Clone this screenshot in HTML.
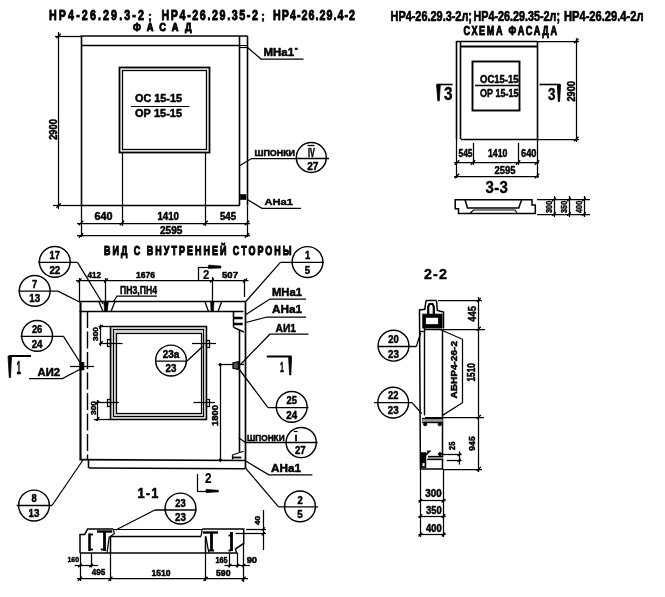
<!DOCTYPE html>
<html><head><meta charset="utf-8"><title>НР4-26.29</title>
<style>
html,body{margin:0;padding:0;background:#fff;}
svg{display:block;will-change:transform;font-family:"Liberation Sans",sans-serif;}
svg line,svg polyline,svg polygon,svg rect,svg circle{stroke:#000;}
svg text{fill:#000;stroke:#000;stroke-linejoin:round;}
</style></head><body>
<svg width="665" height="597" viewBox="0 0 665 597">
<rect x="0" y="0" width="665" height="597" fill="#fff" style="stroke:none"/>
<text transform="translate(49,20.4) scale(0.72,1)" font-size="14.86" textLength="131.9" lengthAdjust="spacing" font-weight="bold" stroke-width="0.97">НР4-26.29.3-2</text>
<text x="148" y="20" font-size="11.43" textLength="4.0" lengthAdjust="spacingAndGlyphs" font-weight="bold" stroke-width="0.5">;</text>
<text transform="translate(161.5,20.4) scale(0.72,1)" font-size="14.86" textLength="134.0" lengthAdjust="spacing" font-weight="bold" stroke-width="0.97">НР4-26.29.35-2</text>
<text x="261" y="20" font-size="11.43" textLength="4.0" lengthAdjust="spacingAndGlyphs" font-weight="bold" stroke-width="0.5">;</text>
<text transform="translate(273,20.4) scale(0.72,1)" font-size="14.86" textLength="113.9" lengthAdjust="spacing" font-weight="bold" stroke-width="0.97">НР4-26.29.4-2</text>
<text transform="translate(133,31) scale(0.8,1)" font-size="11.57" textLength="73.1" lengthAdjust="spacing" font-weight="bold" stroke-width="1.00">ФАСАД</text>
<text x="390.5" y="20.9" font-size="14.29" textLength="81.5" lengthAdjust="spacingAndGlyphs" font-weight="bold" stroke-width="0.7">НР4-26.29.3-2л;</text>
<text x="473.5" y="20.9" font-size="14.29" textLength="86.5" lengthAdjust="spacingAndGlyphs" font-weight="bold" stroke-width="0.7">НР4-26.29.35-2л;</text>
<text x="564" y="20.9" font-size="14.29" textLength="79.5" lengthAdjust="spacingAndGlyphs" font-weight="bold" stroke-width="0.7">НР4-26.29.4-2л</text>
<text transform="translate(463.5,34.5) scale(0.75,1)" font-size="12.14" textLength="124.7" lengthAdjust="spacing" font-weight="bold" stroke-width="0.93">СХЕМА ФАСАДА</text>
<line x1="80.5" y1="36" x2="247.5" y2="36.001" stroke-width="1.6" />
<line x1="81" y1="45.5" x2="240" y2="45.5" stroke-width="1.6" />
<line x1="81.5" y1="36" x2="81.5" y2="205.5" stroke-width="1.6" />
<line x1="81.5" y1="205.5" x2="81.5" y2="237" stroke-width="1.25" />
<line x1="247.5" y1="36" x2="247.5" y2="205.5" stroke-width="1.6" />
<line x1="247.5" y1="205.5" x2="247.5" y2="237" stroke-width="1.25" />
<line x1="239.5" y1="36" x2="239.5" y2="205.5" stroke-width="1.6" />
<line x1="81" y1="205.5" x2="240" y2="205.5" stroke-width="1.6" />
<line x1="240" y1="45.5" x2="247" y2="45.5" stroke-width="1" />
<line x1="240" y1="47.5" x2="247" y2="47.5" stroke-width="1.2" />
<rect x="119.5" y="67.5" width="90.0" height="85.0" stroke-width="1.8" fill="none"/>
<rect x="122.5" y="70.5" width="84.0" height="79.0" stroke-width="1.3" fill="none"/>
<line x1="58.5" y1="32" x2="58.5" y2="209" stroke-width="1.25" />
<line x1="55" y1="36.5" x2="81" y2="36.5" stroke-width="1.25" />
<line x1="53" y1="205.5" x2="81" y2="205.5" stroke-width="1.25" />
<line x1="56.4" y1="38.2" x2="60.800000000000004" y2="33.8" stroke-width="1.3" />
<line x1="56.4" y1="207.7" x2="60.800000000000004" y2="203.3" stroke-width="1.3" />
<text transform="translate(56.8,139.8) rotate(-90)" font-size="10.29" textLength="20.6" lengthAdjust="spacingAndGlyphs" font-weight="bold" stroke-width="0.5">2900</text>
<text x="135" y="101.5" font-size="10.71" textLength="47.0" lengthAdjust="spacingAndGlyphs" font-weight="bold" stroke-width="0.5">ОС 15-15</text>
<line x1="131" y1="106.5" x2="189.5" y2="106.5" stroke-width="1.2" />
<text x="135" y="116.5" font-size="10.71" textLength="47.0" lengthAdjust="spacingAndGlyphs" font-weight="bold" stroke-width="0.5">ОР 15-15</text>
<line x1="122.5" y1="152.5" x2="122.5" y2="226" stroke-width="1.25" />
<line x1="205.5" y1="152.5" x2="205.5" y2="226" stroke-width="1.25" />
<line x1="77" y1="223.5" x2="250" y2="223.5" stroke-width="1.25" />
<line x1="77" y1="235.5" x2="250" y2="235.5" stroke-width="1.25" />
<line x1="78.8" y1="225.2" x2="83.2" y2="220.8" stroke-width="1.3" />
<line x1="119.8" y1="225.2" x2="124.2" y2="220.8" stroke-width="1.3" />
<line x1="203.3" y1="225.2" x2="207.7" y2="220.8" stroke-width="1.3" />
<line x1="244.8" y1="225.2" x2="249.2" y2="220.8" stroke-width="1.3" />
<line x1="78.8" y1="237.7" x2="83.2" y2="233.3" stroke-width="1.3" />
<line x1="244.8" y1="237.7" x2="249.2" y2="233.3" stroke-width="1.3" />
<text x="94.5" y="220" font-size="10.71" textLength="18.0" lengthAdjust="spacingAndGlyphs" font-weight="bold" stroke-width="0.5">640</text>
<text x="157.5" y="220" font-size="10.71" textLength="21.5" lengthAdjust="spacingAndGlyphs" font-weight="bold" stroke-width="0.5">1410</text>
<text x="220" y="220" font-size="10.00" textLength="16.0" lengthAdjust="spacingAndGlyphs" font-weight="bold" stroke-width="0.5">545</text>
<text x="160" y="234" font-size="10.00" textLength="22.5" lengthAdjust="spacingAndGlyphs" font-weight="bold" stroke-width="0.5">2595</text>
<polyline points="247,47 261,59 303.5,59" stroke-width="1.25" fill="none"/>
<text x="263.5" y="56" font-size="10.00" textLength="30.5" lengthAdjust="spacingAndGlyphs" font-weight="bold" stroke-width="0.5">МНа1</text>
<text x="294.5" y="53" font-size="7.14" textLength="3.5" lengthAdjust="spacingAndGlyphs" font-weight="bold" stroke-width="0.5">'</text>
<polyline points="240,165.5 251.5,158.5 296,158.5" stroke-width="1.25" fill="none"/>
<text x="254.5" y="155.8" font-size="8.57" textLength="40.5" lengthAdjust="spacingAndGlyphs" font-weight="bold" stroke-width="0.5">ШПОНКИ</text>
<circle cx="311.3" cy="157.5" r="15" stroke-width="1.45" fill="none"/>
<line x1="296" y1="158.5" x2="329" y2="158.5" stroke-width="1.3" />
<text x="308" y="156.6" font-size="11.86" textLength="6.8" lengthAdjust="spacingAndGlyphs" font-weight="bold" stroke-width="0.6">IV</text>
<line x1="307.5" y1="145.5" x2="314.5" y2="145.5" stroke-width="1.3" />
<text x="307.2" y="169.6" font-size="10.86" textLength="11.3" lengthAdjust="spacingAndGlyphs" font-weight="bold" stroke-width="0.5">27</text>
<rect x="240.3" y="194.6" width="5.699999999999989" height="5.0" stroke-width="0.6" fill="#000"/>
<polyline points="247.8,199.7 262,208.4 301,208.4" stroke-width="1.25" fill="none"/>
<text x="264.5" y="205" font-size="9.57" textLength="28.3" lengthAdjust="spacingAndGlyphs" font-weight="bold" stroke-width="0.5">АНа1</text>
<line x1="456.5" y1="41" x2="456.5" y2="139" stroke-width="1.6" />
<line x1="456.5" y1="139" x2="456.5" y2="178" stroke-width="1.25" />
<line x1="460.5" y1="41" x2="460.5" y2="139" stroke-width="1.6" />
<line x1="537.5" y1="41" x2="537.5" y2="139" stroke-width="1.6" />
<line x1="537.5" y1="139" x2="537.5" y2="178" stroke-width="1.25" />
<line x1="456.5" y1="41.5" x2="537" y2="41.5" stroke-width="1.6" />
<line x1="537" y1="41.5" x2="579" y2="41.5" stroke-width="1.25" />
<line x1="460.8" y1="46.5" x2="537" y2="46.5" stroke-width="1.8" />
<line x1="460.8" y1="139.5" x2="537" y2="139.5" stroke-width="1.6" />
<line x1="537" y1="139.5" x2="579" y2="139.5" stroke-width="1.25" />
<rect x="472.5" y="61.5" width="47.0" height="49.0" stroke-width="1.9" fill="none"/>
<line x1="576.5" y1="38" x2="576.5" y2="142" stroke-width="1.25" />
<line x1="574.0999999999999" y1="43.2" x2="578.5" y2="38.8" stroke-width="1.3" />
<line x1="574.0999999999999" y1="141.2" x2="578.5" y2="136.8" stroke-width="1.3" />
<text transform="translate(574.8,101.5) rotate(-90)" font-size="10.43" textLength="20.5" lengthAdjust="spacingAndGlyphs" font-weight="bold" stroke-width="0.5">2900</text>
<text x="480" y="82.5" font-size="10.71" textLength="38.5" lengthAdjust="spacingAndGlyphs" font-weight="bold" stroke-width="0.5">ОС15-15</text>
<line x1="475" y1="85.5" x2="519" y2="85.5" stroke-width="1.3" />
<text x="480" y="96.5" font-size="10.71" textLength="38.5" lengthAdjust="spacingAndGlyphs" font-weight="bold" stroke-width="0.5">ОР 15-15</text>
<line x1="437" y1="84.5" x2="452.6" y2="84.5" stroke-width="1.6" />
<polygon points="436.6,84.5 440.3,84.5 439.3,100.8 437.8,100.8" stroke-width="0.8" fill="#000"/>
<text transform="translate(444,99.6) scale(0.85,1)" font-size="18.00" textLength="9.4" lengthAdjust="spacing" font-weight="bold" stroke-width="0.35">3</text>
<line x1="539.5" y1="84.5" x2="560" y2="84.5" stroke-width="1.6" />
<polygon points="557.3,84.5 560.6,84.5 559.6,101.5 558.3,101.5" stroke-width="0.8" fill="#000"/>
<text transform="translate(548,100.4) scale(0.8,1)" font-size="16.86" textLength="7.5" lengthAdjust="spacing" font-weight="bold" stroke-width="0.37">3</text>
<line x1="473.5" y1="143" x2="473.5" y2="165" stroke-width="1.25" />
<line x1="518.5" y1="143" x2="518.5" y2="165" stroke-width="1.25" />
<line x1="454" y1="162.5" x2="539" y2="162.5" stroke-width="1.25" />
<line x1="454" y1="176.5" x2="539" y2="176.5" stroke-width="1.25" />
<line x1="454.8" y1="164.7" x2="459.2" y2="160.3" stroke-width="1.3" />
<line x1="470.8" y1="164.7" x2="475.2" y2="160.3" stroke-width="1.3" />
<line x1="515.8" y1="164.7" x2="520.2" y2="160.3" stroke-width="1.3" />
<line x1="534.8" y1="164.7" x2="539.2" y2="160.3" stroke-width="1.3" />
<line x1="454.8" y1="178.2" x2="459.2" y2="173.8" stroke-width="1.3" />
<line x1="534.8" y1="178.2" x2="539.2" y2="173.8" stroke-width="1.3" />
<text x="458.5" y="157" font-size="11.43" textLength="14.0" lengthAdjust="spacingAndGlyphs" font-weight="bold" stroke-width="0.5">545</text>
<text x="488" y="157" font-size="11.43" textLength="19.5" lengthAdjust="spacingAndGlyphs" font-weight="bold" stroke-width="0.5">1410</text>
<text x="521" y="157" font-size="11.43" textLength="15.5" lengthAdjust="spacingAndGlyphs" font-weight="bold" stroke-width="0.5">640</text>
<text x="494.5" y="174" font-size="11.43" textLength="21.0" lengthAdjust="spacingAndGlyphs" font-weight="bold" stroke-width="0.5">2595</text>
<text transform="translate(485.5,192.5) scale(0.92,1)" font-size="16.43" textLength="24.5" lengthAdjust="spacing" font-weight="bold" stroke-width="0.33">3-3</text>
<polygon points="455.2,199.8 532,199.8 532,205 535.3,205 535.3,213.5 458.5,213.5 458.5,208.8 455.2,208.8" stroke-width="1.5" fill="none"/>
<polyline points="465,199.8 467.5,208 518.7,208 521.7,199.8" stroke-width="1.5" fill="none"/>
<polyline points="469.8,213.5 473.5,210 515,210 517.3,213.5" stroke-width="1.1" fill="none"/>
<line x1="537" y1="199.5" x2="590" y2="199.5" stroke-width="1.25" />
<line x1="537" y1="214.5" x2="590" y2="214.5" stroke-width="1.25" />
<line x1="554.5" y1="196" x2="554.5" y2="217" stroke-width="1.25" />
<line x1="552.2" y1="201.3" x2="555.8" y2="197.7" stroke-width="1.3" />
<line x1="552.2" y1="215.8" x2="555.8" y2="212.2" stroke-width="1.3" />
<line x1="569.5" y1="196" x2="569.5" y2="217" stroke-width="1.25" />
<line x1="567.2" y1="201.3" x2="570.8" y2="197.7" stroke-width="1.3" />
<line x1="567.2" y1="215.8" x2="570.8" y2="212.2" stroke-width="1.3" />
<line x1="584.5" y1="196" x2="584.5" y2="217" stroke-width="1.25" />
<line x1="582.2" y1="201.3" x2="585.8" y2="197.7" stroke-width="1.3" />
<line x1="582.2" y1="215.8" x2="585.8" y2="212.2" stroke-width="1.3" />
<text transform="translate(552.3,213) rotate(-90)" font-size="9.71" textLength="12.2" lengthAdjust="spacingAndGlyphs" font-weight="bold" stroke-width="0.5">300</text>
<text transform="translate(567.3,213) rotate(-90)" font-size="9.71" textLength="12.2" lengthAdjust="spacingAndGlyphs" font-weight="bold" stroke-width="0.5">350</text>
<text transform="translate(582.3,213) rotate(-90)" font-size="9.71" textLength="12.2" lengthAdjust="spacingAndGlyphs" font-weight="bold" stroke-width="0.5">400</text>
<text transform="translate(104,255) scale(0.66,1)" font-size="13.57" textLength="284.1" lengthAdjust="spacing" font-weight="bold" stroke-width="1.14">ВИД С ВНУТРЕННЕЙ СТОРОНЫ</text>
<line x1="79.5" y1="301.5" x2="245.5" y2="301.5" stroke-width="1.6" />
<line x1="79.5" y1="311.5" x2="243.5" y2="311.5" stroke-width="1.6" />
<line x1="79.5" y1="278" x2="79.5" y2="302.3" stroke-width="1.25" />
<line x1="80.5" y1="302.3" x2="80.5" y2="459.8" stroke-width="2.1" />
<line x1="87.5" y1="311" x2="87.5" y2="459.5" stroke-width="1.4" stroke-dasharray="17 3.5"/>
<line x1="245.5" y1="301.6" x2="245.5" y2="468" stroke-width="1.7" />
<line x1="79.5" y1="459.6" x2="245" y2="460.5" stroke-width="1.6" />
<line x1="88.5" y1="459.8" x2="88.5" y2="468" stroke-width="1.6" />
<line x1="88.8" y1="468" x2="245" y2="468.8" stroke-width="1.6" />
<line x1="239.5" y1="329.7" x2="239.5" y2="452" stroke-width="1.6" />
<line x1="233.5" y1="311" x2="233.5" y2="327.4" stroke-width="1.5" />
<line x1="233.7" y1="318" x2="242.7" y2="318.001" stroke-width="2.3" />
<line x1="233.7" y1="324" x2="242.7" y2="324.001" stroke-width="2.3" />
<polyline points="233.7,327.4 243.8,332" stroke-width="1.4" fill="none"/>
<rect x="113.5" y="330" width="90.5" height="86" fill="none" style="stroke:#cfcfcf" stroke-width="5.5"/>
<rect x="110.5" y="326.5" width="96.0" height="93.0" stroke-width="1.5" fill="none"/>
<rect x="113.5" y="329.5" width="90.0" height="87.0" stroke-width="1.0" fill="none"/>
<rect x="116.5" y="333.5" width="85.0" height="80.0" stroke-width="1.2" fill="none"/>
<line x1="99.6" y1="343.5" x2="122.5" y2="343.5" stroke-width="1.25" />
<rect x="107.5" y="339.5" width="3.0" height="7.0" stroke-width="1.25" fill="none"/>
<line x1="192" y1="343.5" x2="216" y2="343.5" stroke-width="1.25" />
<rect x="206.5" y="340.5" width="3.0" height="7.0" stroke-width="1.25" fill="none"/>
<line x1="94" y1="402.5" x2="119" y2="402.5" stroke-width="1.25" />
<rect x="107.5" y="399.5" width="3.0" height="7.0" stroke-width="1.25" fill="none"/>
<line x1="193.5" y1="402.5" x2="215" y2="402.5" stroke-width="1.25" />
<rect x="206.5" y="399.5" width="3.0" height="7.0" stroke-width="1.25" fill="none"/>
<line x1="100.5" y1="324.5" x2="100.5" y2="346" stroke-width="1.25" />
<line x1="98.5" y1="326.5" x2="110.7" y2="326.5" stroke-width="1.25" />
<line x1="99.2" y1="328.5" x2="102.8" y2="324.9" stroke-width="1.3" />
<line x1="99.2" y1="344.8" x2="102.8" y2="341.2" stroke-width="1.3" />
<text transform="translate(97.8,341) rotate(-90)" font-size="7.86" textLength="14.0" lengthAdjust="spacingAndGlyphs" font-weight="bold" stroke-width="0.5">300</text>
<line x1="97.5" y1="400" x2="97.5" y2="421" stroke-width="1.25" />
<line x1="94" y1="419.5" x2="110.7" y2="419.5" stroke-width="1.25" />
<line x1="95.7" y1="404.5" x2="99.3" y2="400.9" stroke-width="1.3" />
<line x1="95.7" y1="420.8" x2="99.3" y2="417.2" stroke-width="1.3" />
<text transform="translate(96,415) rotate(-90)" font-size="7.86" textLength="14.0" lengthAdjust="spacingAndGlyphs" font-weight="bold" stroke-width="0.5">300</text>
<line x1="76" y1="280.5" x2="248.5" y2="280.5" stroke-width="1.25" />
<line x1="105.5" y1="278" x2="105.5" y2="302" stroke-width="1.25" />
<polygon points="103.8,302 108.3,302 107.3,311 104.6,311" stroke-width="0.6" fill="#000"/>
<line x1="212.5" y1="277" x2="212.5" y2="302" stroke-width="1.25" />
<polygon points="210.6,302 213.9,302 213.5,311 211,311" stroke-width="0.6" fill="#000"/>
<line x1="244.5" y1="279" x2="244.5" y2="297" stroke-width="1.25" />
<line x1="77.5" y1="282.5" x2="81.5" y2="278.5" stroke-width="1.3" />
<line x1="104" y1="282.5" x2="108" y2="278.5" stroke-width="1.3" />
<line x1="210" y1="282.5" x2="214" y2="278.5" stroke-width="1.3" />
<line x1="243" y1="282.5" x2="247" y2="278.5" stroke-width="1.3" />
<text x="87.5" y="277.5" font-size="9.71" textLength="13.5" lengthAdjust="spacingAndGlyphs" font-weight="bold" stroke-width="0.5">412</text>
<text x="136" y="277.5" font-size="9.71" textLength="19.0" lengthAdjust="spacingAndGlyphs" font-weight="bold" stroke-width="0.5">1676</text>
<text x="222" y="277.5" font-size="9.71" textLength="16.0" lengthAdjust="spacingAndGlyphs" font-weight="bold" stroke-width="0.5">507</text>
<polyline points="98.8,301.5 103,311.5" stroke-width="1.3" fill="none"/>
<polyline points="115,301.5 111,311.5" stroke-width="1.3" fill="none"/>
<polyline points="204.9,301.5 208.5,311.5" stroke-width="1.3" fill="none"/>
<polyline points="221.7,301.5 218,311.5" stroke-width="1.3" fill="none"/>
<text x="120" y="294" font-size="11.43" textLength="37.0" lengthAdjust="spacingAndGlyphs" font-weight="bold" stroke-width="0.5">ПН3,ПН4</text>
<polyline points="157,296 117,296 113.3,302" stroke-width="1.25" fill="none"/>
<line x1="198.5" y1="267" x2="198.5" y2="280.5" stroke-width="1.25" />
<line x1="198.2" y1="267.5" x2="221" y2="267.5" stroke-width="1.25" />
<polygon points="208.5,265 221,266 221,268 208.5,268.6" stroke-width="0.5" fill="#000"/>
<text x="203" y="278.5" font-size="12.14" textLength="6.3" lengthAdjust="spacingAndGlyphs" font-weight="bold" stroke-width="0.2">2</text>
<line x1="197.5" y1="474" x2="197.5" y2="491" stroke-width="1.25" />
<line x1="197" y1="491.5" x2="218.5" y2="491.5" stroke-width="1.25" />
<polygon points="206,489.3 218.5,490.2 218.5,491.8 206,492.7" stroke-width="0.5" fill="#000"/>
<text x="205" y="482.5" font-size="14.29" textLength="6.5" lengthAdjust="spacingAndGlyphs" font-weight="bold" stroke-width="0.2">2</text>
<line x1="9" y1="356" x2="31" y2="356.001" stroke-width="2.0" />
<polygon points="8,356 11.5,356 10.5,377.5 9.3,377.5" stroke-width="0.8" fill="#000"/>
<text x="16.5" y="374" font-size="18.57" textLength="4.5" lengthAdjust="spacingAndGlyphs" font-weight="bold" stroke-width="0.5">1</text>
<line x1="266.8" y1="356.4" x2="291.3" y2="356.401" stroke-width="2.0" />
<polygon points="288.6,356.4 291.6,356.4 290.8,375 289.6,375" stroke-width="0.8" fill="#000"/>
<text x="280" y="372" font-size="14.57" textLength="4.0" lengthAdjust="spacingAndGlyphs" font-weight="bold" stroke-width="0.5">1</text>
<circle cx="54.8" cy="261.8" r="15.4" stroke-width="1.45" fill="none"/>
<line x1="38" y1="262.3" x2="77.5" y2="262.301" stroke-width="1.3" />
<text x="49.599999999999994" y="259.1" font-size="10.86" textLength="10.4" lengthAdjust="spacingAndGlyphs" font-weight="bold" stroke-width="0.5">17</text>
<text x="49.4" y="273.5" font-size="11.14" textLength="10.8" lengthAdjust="spacingAndGlyphs" font-weight="bold" stroke-width="0.5">22</text>
<polyline points="77.5,262.3 103,304" stroke-width="1.25" fill="none"/>
<circle cx="34.7" cy="290.9" r="15.4" stroke-width="1.45" fill="none"/>
<line x1="18.3" y1="291.1" x2="58" y2="291.101" stroke-width="1.3" />
<text x="32.1" y="287.90000000000003" font-size="10.86" textLength="5.2" lengthAdjust="spacingAndGlyphs" font-weight="bold" stroke-width="0.5">7</text>
<text x="29.300000000000004" y="302.3" font-size="11.14" textLength="10.8" lengthAdjust="spacingAndGlyphs" font-weight="bold" stroke-width="0.5">13</text>
<polyline points="58,291.1 79.5,302" stroke-width="1.25" fill="none"/>
<circle cx="37.1" cy="335.8" r="15.4" stroke-width="1.45" fill="none"/>
<line x1="20.5" y1="336.3" x2="63.5" y2="336.301" stroke-width="1.3" />
<text x="31.900000000000002" y="333.1" font-size="10.86" textLength="10.4" lengthAdjust="spacingAndGlyphs" font-weight="bold" stroke-width="0.5">26</text>
<text x="31.700000000000003" y="347.5" font-size="11.14" textLength="10.8" lengthAdjust="spacingAndGlyphs" font-weight="bold" stroke-width="0.5">24</text>
<polyline points="63.5,336.3 80.7,363.5" stroke-width="1.25" fill="none"/>
<text x="37.5" y="376" font-size="10.00" textLength="22.5" lengthAdjust="spacingAndGlyphs" font-weight="bold" stroke-width="0.5">АИ2</text>
<polyline points="29,378.6 62.5,378.6 80.5,369" stroke-width="1.25" fill="none"/>
<line x1="70" y1="366.5" x2="94" y2="366.5" stroke-width="1.25" />
<rect x="80" y="362.5" width="3.799999999999997" height="7.300000000000011" stroke-width="1.0" fill="#000"/>
<circle cx="307.5" cy="262" r="15.4" stroke-width="1.45" fill="none"/>
<line x1="280.4" y1="262.3" x2="324" y2="262.301" stroke-width="1.3" />
<text x="304.9" y="259.1" font-size="10.86" textLength="5.2" lengthAdjust="spacingAndGlyphs" font-weight="bold" stroke-width="0.5">1</text>
<text x="304.8" y="273.5" font-size="11.14" textLength="5.4" lengthAdjust="spacingAndGlyphs" font-weight="bold" stroke-width="0.5">5</text>
<polyline points="280.4,262.3 245.8,301.5" stroke-width="1.25" fill="none"/>
<text x="272" y="295.5" font-size="10.71" textLength="30.0" lengthAdjust="spacingAndGlyphs" font-weight="bold" stroke-width="0.5">МНа1</text>
<polyline points="306,299 270,299 246,314.5" stroke-width="1.25" fill="none"/>
<text x="272" y="313" font-size="10.71" textLength="30.0" lengthAdjust="spacingAndGlyphs" font-weight="bold" stroke-width="0.5">АНа1</text>
<polyline points="306,317 267,317 246,322.5" stroke-width="1.25" fill="none"/>
<text x="275.5" y="332" font-size="11.43" textLength="20.5" lengthAdjust="spacingAndGlyphs" font-weight="bold" stroke-width="0.5">АИ1</text>
<polyline points="308.5,334.2 269.8,334.2 240,365" stroke-width="1.25" fill="none"/>
<line x1="218.5" y1="364.5" x2="244" y2="364.5" stroke-width="1.25" />
<polygon points="233,362.8 238.5,361.8 238.5,369.5 233,368.3" stroke-width="1.3" fill="#555"/>
<circle cx="220.3" cy="364.7" r="1.2" fill="#000" stroke="none"/>
<circle cx="220.3" cy="460" r="1.2" fill="#000" stroke="none"/>
<line x1="220.5" y1="364.7" x2="220.5" y2="462" stroke-width="1.25" />
<text transform="translate(218,426) rotate(-90)" font-size="9.29" textLength="21.0" lengthAdjust="spacingAndGlyphs" font-weight="bold" stroke-width="0.5">1800</text>
<circle cx="171" cy="360.5" r="15.4" stroke-width="1.45" fill="none"/>
<line x1="155" y1="361.2" x2="187" y2="361.20099999999996" stroke-width="1.3" />
<text x="162.75" y="358.0" font-size="10.86" textLength="16.5" lengthAdjust="spacingAndGlyphs" font-weight="bold" stroke-width="0.5">23а</text>
<text x="165.6" y="372.4" font-size="11.14" textLength="10.8" lengthAdjust="spacingAndGlyphs" font-weight="bold" stroke-width="0.5">23</text>
<polyline points="186.8,361.2 202.6,346.5" stroke-width="1.25" fill="none"/>
<circle cx="291.7" cy="406.8" r="15.4" stroke-width="1.45" fill="none"/>
<line x1="268" y1="407.6" x2="308.5" y2="407.601" stroke-width="1.3" />
<text x="286.5" y="404.40000000000003" font-size="10.86" textLength="10.4" lengthAdjust="spacingAndGlyphs" font-weight="bold" stroke-width="0.5">25</text>
<text x="286.3" y="418.8" font-size="11.14" textLength="10.8" lengthAdjust="spacingAndGlyphs" font-weight="bold" stroke-width="0.5">24</text>
<polyline points="268,407.6 239,369" stroke-width="1.25" fill="none"/>
<circle cx="301.2" cy="442.5" r="15.1" stroke-width="1.45" fill="none"/>
<line x1="245.5" y1="442.5" x2="317.7" y2="442.5" stroke-width="1.3" />
<text x="294.4" y="440.8" font-size="9.00" textLength="3.0" lengthAdjust="spacingAndGlyphs" font-weight="bold" stroke-width="0.4">I</text>
<line x1="293.8" y1="431.5" x2="297.6" y2="431.5" stroke-width="1.2" />
<text x="295" y="453.8" font-size="10.71" textLength="10.7" lengthAdjust="spacingAndGlyphs" font-weight="bold" stroke-width="0.5">27</text>
<polyline points="238.6,437.8 245.5,442.5" stroke-width="1.25" fill="none"/>
<text x="247" y="440.5" font-size="8.57" textLength="37.6" lengthAdjust="spacingAndGlyphs" font-weight="bold" stroke-width="0.5">ШПОНКИ</text>
<polyline points="232.3,455 243.6,451.3" stroke-width="1.1" fill="none"/>
<line x1="232.3" y1="457.5" x2="241.4" y2="457.5" stroke-width="1.8" />
<line x1="232.5" y1="455" x2="232.5" y2="459.5" stroke-width="1.25" />
<text x="271" y="472" font-size="10.43" textLength="30.0" lengthAdjust="spacingAndGlyphs" font-weight="bold" stroke-width="0.5">АНа1</text>
<polyline points="312.4,474.9 268.8,474.9 245,460.5" stroke-width="1.25" fill="none"/>
<circle cx="300" cy="506.4" r="15.4" stroke-width="1.45" fill="none"/>
<line x1="278.5" y1="506.8" x2="318" y2="506.801" stroke-width="1.3" />
<text x="297.4" y="503.6" font-size="10.86" textLength="5.2" lengthAdjust="spacingAndGlyphs" font-weight="bold" stroke-width="0.5">2</text>
<text x="297.3" y="518.0" font-size="11.14" textLength="5.4" lengthAdjust="spacingAndGlyphs" font-weight="bold" stroke-width="0.5">5</text>
<polyline points="278.5,506.8 245,467.5" stroke-width="1.25" fill="none"/>
<circle cx="34" cy="505.5" r="15.4" stroke-width="1.45" fill="none"/>
<line x1="16.6" y1="505.5" x2="52" y2="505.501" stroke-width="1.3" />
<text x="31.4" y="502.3" font-size="10.86" textLength="5.2" lengthAdjust="spacingAndGlyphs" font-weight="bold" stroke-width="0.5">8</text>
<text x="28.6" y="516.7" font-size="11.14" textLength="10.8" lengthAdjust="spacingAndGlyphs" font-weight="bold" stroke-width="0.5">13</text>
<polyline points="52,505.5 83,460" stroke-width="1.25" fill="none"/>
<text transform="translate(137.5,498.4) scale(0.9,1)" font-size="14.29" textLength="23.3" lengthAdjust="spacing" font-weight="bold" stroke-width="0.56">1-1</text>
<circle cx="180.5" cy="508.5" r="15.4" stroke-width="1.45" fill="none"/>
<line x1="154.8" y1="510" x2="196.5" y2="510.001" stroke-width="1.3" />
<text x="175.3" y="506.8" font-size="10.86" textLength="10.4" lengthAdjust="spacingAndGlyphs" font-weight="bold" stroke-width="0.5">23</text>
<text x="175.1" y="521.2" font-size="11.14" textLength="10.8" lengthAdjust="spacingAndGlyphs" font-weight="bold" stroke-width="0.5">23</text>
<polyline points="154.8,510 115.8,530" stroke-width="1.25" fill="none"/>
<polyline points="80,553 80,534.6 84.7,534.6 87.6,529 113.4,529" stroke-width="1.5" fill="none"/>
<line x1="113.4" y1="529.5" x2="202.2" y2="529.5" stroke-width="1.2" />
<polyline points="202.2,529 243.7,529 243.7,543.5 235.5,548.9 236.5,552.8" stroke-width="1.5" fill="none"/>
<line x1="80" y1="553" x2="237.7" y2="553.001" stroke-width="1.5" />
<line x1="110.4" y1="536.5" x2="201" y2="536.5" stroke-width="1.4" />
<line x1="110.5" y1="536.4" x2="110.5" y2="553" stroke-width="1.5" />
<line x1="205.5" y1="536.4" x2="205.5" y2="553" stroke-width="1.5" />
<line x1="110.5" y1="553" x2="110.5" y2="581" stroke-width="1.25" />
<line x1="205.5" y1="553" x2="205.5" y2="581" stroke-width="1.25" />
<polyline points="113.4,529 114.3,533.5 110.4,536.4" stroke-width="1.2" fill="none"/>
<polyline points="202.2,529 201,536.4" stroke-width="1.2" fill="none"/>
<line x1="89.5" y1="533.5" x2="89.5" y2="551" stroke-width="2.6" />
<line x1="89.3" y1="534.5" x2="93" y2="534.5" stroke-width="1.8" />
<line x1="89.3" y1="549.5" x2="93" y2="549.5" stroke-width="1.8" />
<line x1="104.5" y1="532" x2="104.5" y2="551" stroke-width="2.8" />
<line x1="100.8" y1="549.5" x2="104" y2="549.5" stroke-width="1.8" />
<line x1="97" y1="531.5" x2="112.3" y2="531.5" stroke-width="2.4" />
<line x1="109.3" y1="536.4" x2="107" y2="553" stroke-width="1.25" />
<line x1="202.8" y1="532.5" x2="218" y2="532.5" stroke-width="2.4" />
<line x1="211.5" y1="532" x2="211.5" y2="551" stroke-width="2.8" />
<line x1="208" y1="550.5" x2="214" y2="550.5" stroke-width="2.0" />
<line x1="205.8" y1="536.4" x2="208.8" y2="552.5" stroke-width="1.25" />
<line x1="231.5" y1="532" x2="231.5" y2="551" stroke-width="2.8" />
<line x1="228.5" y1="550.5" x2="231.1" y2="550.5" stroke-width="2.0" />
<line x1="228.5" y1="535.5" x2="231.1" y2="535.5" stroke-width="1.8" />
<line x1="80.5" y1="553" x2="80.5" y2="581" stroke-width="1.25" />
<line x1="91.5" y1="553" x2="91.5" y2="567.5" stroke-width="1.25" />
<line x1="74.7" y1="565.5" x2="98" y2="565.5" stroke-width="1.25" />
<line x1="77" y1="578.5" x2="248" y2="578.5" stroke-width="1.25" />
<line x1="78.2" y1="567.3" x2="81.8" y2="563.7" stroke-width="1.3" />
<line x1="89.3" y1="567.3" x2="92.89999999999999" y2="563.7" stroke-width="1.3" />
<line x1="78" y1="580.7" x2="82" y2="576.7" stroke-width="1.3" />
<line x1="108.4" y1="580.7" x2="112.4" y2="576.7" stroke-width="1.3" />
<line x1="203.6" y1="580.7" x2="207.6" y2="576.7" stroke-width="1.3" />
<line x1="241.7" y1="580.7" x2="245.7" y2="576.7" stroke-width="1.3" />
<text x="67.5" y="562" font-size="7.86" textLength="11.5" lengthAdjust="spacingAndGlyphs" font-weight="bold" stroke-width="0.5">160</text>
<text x="91.7" y="575.2" font-size="9.29" textLength="13.5" lengthAdjust="spacingAndGlyphs" font-weight="bold" stroke-width="0.5">495</text>
<text x="151.5" y="575.5" font-size="9.29" textLength="19.0" lengthAdjust="spacingAndGlyphs" font-weight="bold" stroke-width="0.5">1510</text>
<line x1="229.5" y1="553" x2="229.5" y2="567.5" stroke-width="1.25" />
<line x1="237.5" y1="553" x2="237.5" y2="567.5" stroke-width="1.25" />
<line x1="243.5" y1="543.5" x2="243.5" y2="582" stroke-width="1.25" />
<line x1="224.5" y1="565.5" x2="249.8" y2="565.5" stroke-width="1.25" />
<line x1="228.3" y1="567.1" x2="231.5" y2="563.9" stroke-width="1.3" />
<line x1="236.1" y1="567.1" x2="239.29999999999998" y2="563.9" stroke-width="1.3" />
<line x1="242.1" y1="567.1" x2="245.29999999999998" y2="563.9" stroke-width="1.3" />
<text x="215.5" y="562.7" font-size="8.14" textLength="12.0" lengthAdjust="spacingAndGlyphs" font-weight="bold" stroke-width="0.5">165</text>
<text x="246.7" y="562.7" font-size="8.14" textLength="10.3" lengthAdjust="spacingAndGlyphs" font-weight="bold" stroke-width="0.5">90</text>
<text x="216" y="576" font-size="8.86" textLength="14.5" lengthAdjust="spacingAndGlyphs" font-weight="bold" stroke-width="0.5">590</text>
<line x1="263.5" y1="510" x2="263.5" y2="550" stroke-width="1.25" />
<line x1="246" y1="529.5" x2="266" y2="529.5" stroke-width="1.25" />
<line x1="235.5" y1="533.5" x2="266" y2="533.5" stroke-width="1.25" />
<line x1="261.7" y1="530.6" x2="264.90000000000003" y2="527.4" stroke-width="1.3" />
<line x1="261.7" y1="535.4" x2="264.90000000000003" y2="532.1999999999999" stroke-width="1.3" />
<text transform="translate(260,525) rotate(-90)" font-size="7.86" textLength="9.0" lengthAdjust="spacingAndGlyphs" font-weight="bold" stroke-width="0.5">40</text>
<text transform="translate(424,279) scale(0.95,1)" font-size="15.00" textLength="24.2" lengthAdjust="spacing" font-weight="bold" stroke-width="0.42">2-2</text>
<circle cx="393.5" cy="345.7" r="15.4" stroke-width="1.45" fill="none"/>
<line x1="378" y1="346.5" x2="416.3" y2="346.501" stroke-width="1.3" />
<text x="388.3" y="343.3" font-size="10.86" textLength="10.4" lengthAdjust="spacingAndGlyphs" font-weight="bold" stroke-width="0.5">20</text>
<text x="388.1" y="357.7" font-size="11.14" textLength="10.8" lengthAdjust="spacingAndGlyphs" font-weight="bold" stroke-width="0.5">23</text>
<polyline points="416.3,346.5 420.7,332.8" stroke-width="1.25" fill="none"/>
<circle cx="393.2" cy="402.6" r="15.4" stroke-width="1.45" fill="none"/>
<line x1="374" y1="402.6" x2="412" y2="402.601" stroke-width="1.3" />
<text x="388.0" y="399.40000000000003" font-size="10.86" textLength="10.4" lengthAdjust="spacingAndGlyphs" font-weight="bold" stroke-width="0.5">22</text>
<text x="387.8" y="413.8" font-size="11.14" textLength="10.8" lengthAdjust="spacingAndGlyphs" font-weight="bold" stroke-width="0.5">23</text>
<polyline points="412,402.6 421.7,413.5" stroke-width="1.25" fill="none"/>
<line x1="426" y1="300.5" x2="436.5" y2="300.5" stroke-width="1.5" />
<line x1="438" y1="300.5" x2="482" y2="300.5" stroke-width="1.25" />
<polyline points="426,300.5 424.8,309.3 419.5,310 420.4,469 443,469" stroke-width="1.5" fill="none"/>
<line x1="443" y1="469.5" x2="482" y2="469.5" stroke-width="1.25" />
<polyline points="436.5,300.5 437.3,310.5 443.5,312 443.5,328.5" stroke-width="1.5" fill="none"/>
<line x1="442.5" y1="329" x2="442.5" y2="469" stroke-width="1.5" />
<line x1="424.5" y1="328" x2="424.5" y2="415.4" stroke-width="1.4" />
<line x1="420" y1="331.5" x2="424.8" y2="331.5" stroke-width="1.25" />
<line x1="424.8" y1="329.5" x2="485" y2="329.5" stroke-width="1.25" />
<line x1="425" y1="417.5" x2="484" y2="417.5" stroke-width="1.25" />
<line x1="420.5" y1="469" x2="420.5" y2="537" stroke-width="1.25" />
<line x1="443.5" y1="469" x2="443.5" y2="537" stroke-width="1.25" />
<polyline points="428.2,315 428.2,306.5 429.5,304 432.5,304 433.8,306.5 433.8,315" stroke-width="2.2" fill="none"/>
<rect x="422.8" y="314.2" width="19.19999999999999" height="13.800000000000011" stroke-width="1.0" fill="#000"/>
<rect x="425.8" y="317.6" width="12.399999999999977" height="6.699999999999989" stroke-width="0.5" fill="#fff"/>
<polyline points="439,329 462.5,339.3 462.5,402.7 442.5,415.4" stroke-width="1.25" fill="none"/>
<text transform="translate(456.5,398.5) rotate(-90)" font-size="9.29" textLength="57.5" lengthAdjust="spacingAndGlyphs" font-weight="bold" stroke-width="0.5">АБНР4-26-2</text>
<text transform="translate(474.8,381.5) rotate(-90)" font-size="10.00" textLength="18.5" lengthAdjust="spacingAndGlyphs" font-weight="bold" stroke-width="0.5">1510</text>
<text transform="translate(475.8,321.8) rotate(-90)" font-size="10.29" textLength="15.8" lengthAdjust="spacingAndGlyphs" font-weight="bold" stroke-width="0.5">445</text>
<text transform="translate(475,450.7) rotate(-90)" font-size="9.43" textLength="14.4" lengthAdjust="spacingAndGlyphs" font-weight="bold" stroke-width="0.5">945</text>
<line x1="478.5" y1="297" x2="478.5" y2="472" stroke-width="1.25" />
<line x1="476.8" y1="302" x2="480.8" y2="298" stroke-width="1.3" />
<line x1="476.8" y1="330.8" x2="480.8" y2="326.8" stroke-width="1.3" />
<line x1="476.8" y1="419" x2="480.8" y2="415" stroke-width="1.3" />
<line x1="476.8" y1="471" x2="480.8" y2="467" stroke-width="1.3" />
<rect x="422" y="418.6" width="20.5" height="3.4" fill="#999" style="stroke:none"/>
<line x1="422" y1="418.5" x2="442.5" y2="418.5" stroke-width="1.2" />
<line x1="422" y1="422.5" x2="442.5" y2="422.5" stroke-width="1.4" />
<circle cx="425.2" cy="424.2" r="1.6" fill="#000" stroke="none"/>
<circle cx="439.8" cy="424.2" r="1.6" fill="#000" stroke="none"/>
<rect x="428" y="456" width="15" height="3.8" fill="#999" style="stroke:none"/>
<line x1="428" y1="456.5" x2="443" y2="456.5" stroke-width="1.3" />
<line x1="427" y1="459.5" x2="443" y2="459.5" stroke-width="1.3" />
<circle cx="440" cy="454" r="1.5" fill="#000" stroke="none"/>
<polyline points="426,455 428.3,452.5 430.5,450.5" stroke-width="1.6" fill="none"/>
<polyline points="427.5,450.5 428.3,452.5" stroke-width="1.4" fill="none"/>
<rect x="420.8" y="452.5" width="5.199999999999989" height="15.300000000000011" stroke-width="0.5" fill="#000"/>
<rect x="422.3" y="463" width="2.5" height="3.3000000000000114" stroke-width="0.3" fill="#fff"/>
<line x1="443" y1="454.5" x2="461.7" y2="454.5" stroke-width="1.25" />
<line x1="446.7" y1="460.5" x2="461.7" y2="460.5" stroke-width="1.25" />
<line x1="459.5" y1="451.3" x2="459.5" y2="464.6" stroke-width="1.25" />
<line x1="457.6" y1="456.1" x2="460.6" y2="453.1" stroke-width="1.3" />
<line x1="457.6" y1="461.9" x2="460.6" y2="458.9" stroke-width="1.3" />
<text transform="translate(455,450) rotate(-90)" font-size="8.57" textLength="8.3" lengthAdjust="spacingAndGlyphs" font-weight="bold" stroke-width="0.5">25</text>
<line x1="418.6" y1="500.5" x2="445.7" y2="500.5" stroke-width="1.25" />
<line x1="418.59999999999997" y1="502.5" x2="422.2" y2="498.9" stroke-width="1.3" />
<line x1="441.7" y1="502.5" x2="445.3" y2="498.9" stroke-width="1.3" />
<line x1="418.6" y1="516.5" x2="445.7" y2="516.5" stroke-width="1.25" />
<line x1="418.59999999999997" y1="517.8" x2="422.2" y2="514.2" stroke-width="1.3" />
<line x1="441.7" y1="517.8" x2="445.3" y2="514.2" stroke-width="1.3" />
<line x1="418.6" y1="534.5" x2="445.7" y2="534.5" stroke-width="1.25" />
<line x1="418.59999999999997" y1="536.4" x2="422.2" y2="532.8000000000001" stroke-width="1.3" />
<line x1="441.7" y1="536.4" x2="445.3" y2="532.8000000000001" stroke-width="1.3" />
<text x="425.3" y="497" font-size="10.00" textLength="16.3" lengthAdjust="spacingAndGlyphs" font-weight="bold" stroke-width="0.5">300</text>
<text x="426" y="514" font-size="10.43" textLength="15.6" lengthAdjust="spacingAndGlyphs" font-weight="bold" stroke-width="0.5">350</text>
<text x="426" y="532" font-size="10.00" textLength="15.6" lengthAdjust="spacingAndGlyphs" font-weight="bold" stroke-width="0.5">400</text>
</svg>
</body></html>
